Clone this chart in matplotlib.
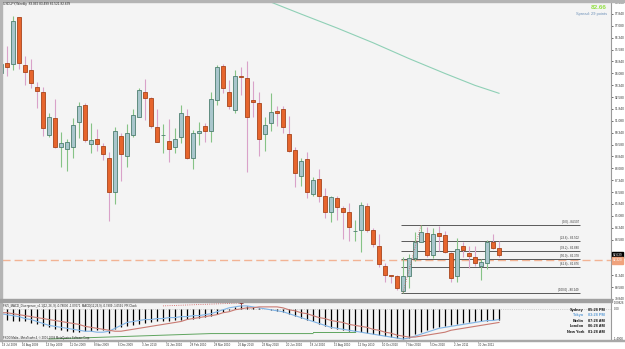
import matplotlib
matplotlib.use("Agg")
import matplotlib.pyplot as plt
from matplotlib.patches import Rectangle

plt.rcParams['font.family'] = ['Liberation Sans', 'DejaVu Sans']

W, H = 625, 349

# weekly USDJPY bars, first bar = week of 19 Jul 2009, last = week of 20 Feb 2011
opens = [94.13, 94.76, 94.69, 97.63, 94.63, 94.32, 93.19, 92.88, 90.19, 91.26,
         89.44, 89.32, 89.44, 91.01, 92.07, 89.63, 89.94, 89.50, 88.76, 86.57,
         90.13, 88.88, 90.19, 91.32, 92.88, 92.51, 90.69, 90.16, 89.82, 89.44,
         90.07, 91.38, 88.76, 90.32, 90.76, 90.44, 92.38, 94.57, 92.88, 91.76,
         93.94, 93.76, 92.38, 92.19, 90.26, 90.94, 91.69, 91.82, 90.26, 89.26,
         87.63, 88.69, 86.44, 87.44, 86.32, 85.32, 86.19, 85.57, 85.32, 84.13,
         84.19, 85.69, 84.19, 83.19, 81.94, 81.35, 81.26, 80.32, 81.26, 82.44,
         83.44, 84.01, 82.63, 84.01, 83.88, 82.76, 81.26, 83.19, 82.76, 82.51,
         81.94, 82.13, 83.44, 83.062]
closes = [94.69, 94.50, 97.38, 94.76, 94.19, 93.44, 92.94, 90.63, 91.32, 89.44,
          89.69, 89.76, 90.82, 92.01, 89.88, 89.88, 89.63, 89.01, 86.57, 90.44,
          89.01, 90.32, 91.44, 93.01, 92.51, 90.76, 89.76, 90.19, 89.32, 89.94,
          91.57, 88.76, 90.32, 90.44, 90.44, 92.44, 94.50, 93.13, 92.01, 93.94,
          93.82, 91.32, 92.26, 89.94, 90.82, 91.63, 91.57, 90.69, 89.19, 87.76,
          88.57, 86.57, 87.32, 86.32, 85.32, 86.26, 85.63, 85.32, 84.38, 84.16,
          85.76, 84.19, 83.32, 82.07, 81.38, 81.29, 80.51, 81.32, 82.44, 83.44,
          84.07, 82.63, 83.94, 83.82, 82.82, 81.19, 83.01, 82.94, 82.57, 82.13,
          82.19, 83.44, 83.07, 82.639]
highs = [95.19, 95.82, 97.69, 97.66, 95.19, 95.01, 93.51, 93.19, 91.57, 92.44,
         90.38, 89.94, 91.26, 92.26, 92.19, 90.94, 90.57, 89.69, 89.13, 90.69,
         90.32, 90.88, 91.82, 93.13, 93.69, 92.57, 91.82, 90.88, 91.19, 90.63,
         92.07, 91.82, 90.51, 91.01, 90.94, 92.88, 94.63, 94.69, 93.63, 94.26,
         94.51, 94.88, 93.57, 92.88, 91.32, 92.82, 92.01, 92.01, 91.38, 89.44,
         88.76, 89.13, 87.51, 88.07, 86.82, 86.32, 86.32, 85.69, 85.88, 84.82,
         85.94, 85.88, 84.32, 83.94, 82.13, 81.38, 81.38, 82.51, 82.69, 84.07,
         84.51, 84.38, 84.32, 84.44, 84.13, 82.82, 83.69, 83.44, 83.19, 83.19,
         82.38, 83.57, 83.94, 83.499]
lows = [93.01, 93.94, 94.26, 94.38, 93.32, 93.13, 91.88, 90.13, 90.07, 89.38,
        88.19, 87.94, 88.76, 90.01, 89.76, 89.07, 89.19, 88.63, 84.76, 85.82,
        87.26, 88.19, 90.07, 91.32, 91.13, 90.63, 89.76, 89.07, 88.51, 89.07,
        89.69, 88.69, 88.07, 89.57, 89.76, 89.76, 92.07, 92.82, 91.82, 91.57,
        92.69, 87.88, 91.32, 88.88, 89.19, 90.44, 90.76, 90.32, 89.13, 86.88,
        86.94, 86.19, 86.32, 85.94, 84.94, 84.69, 84.82, 83.63, 83.51, 83.51,
        82.82, 84.07, 83.13, 81.88, 80.94, 80.82, 80.38, 80.25, 80.51, 82.26,
        83.44, 82.51, 82.44, 82.88, 82.76, 80.94, 80.94, 82.51, 81.82, 81.94,
        81.07, 81.76, 83.01, 82.521]

# long moving average (read at a few bars)
ma_idx = [44, 50, 56, 62, 68, 74, 79, 83]
ma_vals = [98.72, 97.82, 96.94, 96.01, 95.01, 94.07, 93.32, 92.82]

fib_high = 84.507
fib_low = 80.249
fib_levels = [0.0, 23.6, 38.2, 50.0, 61.8, 100.0]
hline_price = 82.32
bid = 82.66
spread = 29

price_ticks = [98.58, 97.84, 97.08, 96.34, 95.58, 94.84, 94.08, 93.34, 92.58,
               91.84, 91.08, 90.34, 89.58, 88.84, 88.08, 87.34, 86.58, 85.84,
               85.08, 84.34, 83.58, 81.34, 80.58, 79.84]

date_idx = list(range(0, 84, 4))
date_labels = ['19 Jul 2009', '16 Aug 2009', '13 Sep 2009', '11 Oct 2009',
               '8 Nov 2009', '6 Dec 2009', '3 Jan 2010', '31 Jan 2010',
               '28 Feb 2010', '28 Mar 2010', '25 Apr 2010', '23 May 2010',
               '20 Jun 2010', '18 Jul 2010', '15 Aug 2010', '12 Sep 2010',
               '10 Oct 2010', '7 Nov 2010', '5 Dec 2010', '2 Jan 2011',
               '30 Jan 2011']

# MACD divergence sub-window
macd_hist = [-0.55, -0.55, -0.60, -0.60, -0.65, -0.75, -0.80, -0.90, -0.95, -1.05,
             -1.10, -1.15, -1.20, -1.20, -1.15, -1.15, -1.10, -1.10, -1.25, -1.05,
             -0.95, -0.90, -0.85, -0.80, -0.75, -0.70, -0.65, -0.60, -0.60, -0.55,
             -0.55, -0.50, -0.50, -0.45, -0.40, -0.35, -0.25, -0.15, -0.05, 0.10,
             0.20, 0.15, 0.10, 0.05, -0.02, -0.05, -0.10, -0.15, -0.25, -0.35,
             -0.45, -0.55, -0.65, -0.80, -0.90, -1.00, -1.05, -1.10, -1.15, -1.20,
             -1.20, -1.25, -1.30, -1.35, -1.40, -1.45, -1.50, -1.55, -1.50, -1.30,
             -1.20, -1.10, -1.00, -0.95, -0.90, -0.85, -0.80, -0.75, -0.70, -0.65,
             -0.65, -0.60, -0.55, -0.55]
macd_line = [-0.25, -0.30, -0.35, -0.40, -0.50, -0.55, -0.65, -0.75, -0.85, -0.90,
             -0.95, -1.00, -1.05, -1.10, -1.15, -1.15, -1.20, -1.20, -1.15, -1.00,
             -0.85, -0.70, -0.65, -0.60, -0.55, -0.55, -0.50, -0.50, -0.45, -0.45,
             -0.40, -0.40, -0.35, -0.35, -0.30, -0.25, -0.15, -0.05, 0.05, 0.10,
             0.15, 0.15, 0.10, 0.05, 0.00, -0.05, -0.10, -0.15, -0.25, -0.35,
             -0.45, -0.55, -0.65, -0.75, -0.85, -0.95, -1.00, -1.05, -1.10, -1.15,
             -1.20, -1.25, -1.30, -1.35, -1.40, -1.45, -1.50, -1.55, -1.50, -1.40,
             -1.30, -1.20, -1.10, -1.00, -0.95, -0.90, -0.85, -0.80, -0.75, -0.70,
             -0.65, -0.60, -0.60, -0.55]
macd_signal = [-0.20, -0.20, -0.25, -0.30, -0.35, -0.40, -0.45, -0.50, -0.55, -0.60,
               -0.65, -0.70, -0.75, -0.80, -0.90, -0.95, -1.00, -1.05, -1.10, -1.15,
               -1.15, -1.10, -1.05, -1.00, -0.95, -0.90, -0.85, -0.80, -0.75, -0.70,
               -0.65, -0.55, -0.50, -0.45, -0.40, -0.35, -0.30, -0.20, -0.15, -0.05,
               0.00, 0.05, 0.05, 0.10, 0.10, 0.10, 0.10, 0.05, -0.05, -0.10,
               -0.20, -0.25, -0.35, -0.45, -0.50, -0.60, -0.65, -0.70, -0.80, -0.85,
               -0.90, -0.95, -1.05, -1.10, -1.20, -1.25, -1.35, -1.40, -1.45, -1.45,
               -1.40, -1.35, -1.30, -1.25, -1.20, -1.10, -1.05, -1.00, -0.95, -0.90,
               -0.85, -0.80, -0.75, -0.70]

clock_cities = ['Sydney', 'Tokyo', 'Berlin', 'London', 'New York']
clock_times = ['05:28 PM', '03:28 PM', '07:28 AM', '06:28 AM', '01:28 AM']


def fx(x):
    return x / W


def fy(y):
    return 1 - y / H


fig = plt.figure(figsize=(W / 100, H / 100), dpi=100, facecolor='white')

# window frame bits
for (x0, y0, w, h, c) in [(0, 0, W, 2, '#b4b4b4'), (0, 0, 2, 341, '#b4b4b4'),
                          (0, 299, 612, 3, '#a0a0a0'), (0, 340, W, 1.2, '#a8a8a8')]:
    fig.patches.append(Rectangle((fx(x0), fy(y0 + h)), w / W, h / H,
                                 transform=fig.transFigure, color=c, zorder=0))

ax = fig.add_axes([fx(2), fy(299), 609 / W, 297 / H])
ax2 = fig.add_axes([fx(2), fy(340), 609 / W, 38 / H])
xlim = ((2 - 1) / 6, (611 - 1) / 6)

for a in (ax, ax2):
    a.set_facecolor('#f4f4f4')
    a.set_xlim(*xlim)
    for s in ('top', 'left', 'bottom'):
        a.spines[s].set_visible(False)
    a.spines['right'].set_color('#9a9a9a')
    a.spines['right'].set_linewidth(0.8)

ax.set_ylim(98.63 - 299 / 16, 98.63 - 2 / 16)

# candles
idx = list(range(len(opens)))
bull = [c >= o for o, c in zip(opens, closes)]
wick_col = ['#86c386' if b else '#d9a2c9' for b in bull]
ax.vlines(idx, lows, highs, colors=wick_col, lw=0.8, zorder=2)
bottoms = [min(o, c) for o, c in zip(opens, closes)]
heights = [max(abs(c - o), 0.03) for o, c in zip(opens, closes)]
ax.bar(idx, heights, bottom=bottoms, width=0.62,
       color=['#a9c6cc' if b else '#e6652d' for b in bull],
       edgecolor=['#4e7f70' if b else '#a8451c' for b in bull],
       linewidth=0.6, zorder=3)

# moving average
ax.plot(ma_idx, ma_vals, color='#8fd0b6', lw=0.8, zorder=1)

# dashed horizontal line
ax.axhline(hline_price, color='#f2b394', lw=1.0, ls=(0, (5.8, 2.9)), zorder=1)

# fibonacci retracement
fib_start, fib_end = 66.7, 96.5
for lvl in fib_levels:
    p = fib_high - lvl / 100 * (fib_high - fib_low)
    ax.hlines(p, fib_start, fib_end, color='#5a5a5a', lw=0.7, zorder=1)
    ax.text(fib_end - 0.2, p + 0.06, '(%.1f) - %.3f' % (lvl, p), ha='right',
            va='bottom', fontsize=2.1, color='#333333')
ax.plot([67, 70], [fib_low, fib_high], color='#d06060', lw=0.6, ls=':', zorder=4)

# price scale on the right
ax.set_xticks([])
ax.yaxis.tick_right()
ax.set_yticks(price_ticks)
ax.set_yticklabels(['%.3f' % p for p in price_ticks])
ax.tick_params(axis='y', length=1.5, width=0.5, pad=1, labelsize=2.3,
               colors='#333333')
ax.annotate('%.3f' % closes[-1], xy=(1, closes[-1]), xycoords=('axes fraction', 'data'),
            xytext=(1.2, 0), textcoords='offset points', fontsize=2.3, color='white',
            va='center', ha='left', annotation_clip=False,
            bbox=dict(boxstyle='square,pad=0.35', fc='black', ec='black'))
ax.annotate('%.3f' % hline_price, xy=(1, hline_price), xycoords=('axes fraction', 'data'),
            xytext=(1.2, -0.5), textcoords='offset points', fontsize=2.3, color='white',
            va='center', ha='left', annotation_clip=False,
            bbox=dict(boxstyle='square,pad=0.35', fc='#f0a27c', ec='#f0a27c'))

fig.text(fx(3), fy(4.5), 'USDJPY,Weekly  %.3f %.3f %.3f %.3f'
         % (opens[-1], highs[-1], lows[-1], closes[-1]),
         fontsize=2.3, color='#222222', va='center')
fig.text(fx(607), fy(7.5), '%.2f' % bid, fontsize=4.6, fontweight='bold',
         color='#92e043', ha='right', va='center')
fig.text(fx(607), fy(14), 'Spread: %d points' % spread, fontsize=2.9,
         color='#6c90b8', ha='right', va='center')

# MACD window
ax2.set_ylim(-1.6, 0.35)
ax2.axhline(0, color='#b0b0b0', lw=0.5, ls=':')
ax2.vlines(idx, 0, macd_hist, colors='black', lw=0.9, zorder=2)
ax2.plot(idx, macd_line, color='#80b4e6', lw=0.8, zorder=3)
ax2.plot(idx, macd_signal, color='#c97a72', lw=0.8, zorder=3)
ax2.plot([8, 35, 52], [-1.55, -1.27, -1.27], color='#5fa55f', lw=0.7, zorder=3)
ax2.plot([52, 59], [-1.2, -1.2], color='#5fa55f', lw=0.7, zorder=3)
ax2.plot([27, 40], [0.15, 0.30], color='#d05050', lw=0.6, ls=':', zorder=3)
ax2.plot([40], [0.30], marker='+', ms=2.5, mew=0.6, color='#802020', zorder=4)
ax2.set_yticks([])

ax2.set_xticks([max(k - 0.5, xlim[0]) for k in date_idx])
ax2.set_xticklabels(date_labels, ha='left')
ax2.tick_params(axis='x', length=1.5, width=0.5, pad=0.8, labelsize=2.1,
                colors='#333333')

fig.text(fx(3), fy(306), 'FXI5_MACD_Divergence_v1.1(12, 26, 9) -0.78030 -1.07071  '
         'MACD(12,26,9) -0.7909 -1.0591  PR Clock', fontsize=2.1, color='#222222',
         va='center')
fig.text(fx(3), fy(338.3), 'FXDD Malta - MetaTrader 4, \u00a9 2001-2009 MetaQuotes '
         'Software Corp.', fontsize=2.0, color='#222222', va='center')
fig.text(fx(614), fy(303.5), '1.00826', fontsize=2.1, color='#333333', va='center')
fig.text(fx(614), fy(309.5), '0.00', fontsize=2.1, color='#333333', va='center')
fig.text(fx(614), fy(339), '-1.4900', fontsize=2.1, color='#333333', va='center')

for i, (city, t) in enumerate(zip(clock_cities, clock_times)):
    y = 310 + i * 5.4
    col = '#5b9bd5' if city == 'Tokyo' else '#111111'
    fig.text(fx(584), fy(y), city, fontsize=2.8, fontweight='bold', color=col,
             ha='right', va='center')
    fig.text(fx(588), fy(y), t, fontsize=2.8, fontweight='bold', color=col,
             ha='left', va='center')

fig.savefig('out.png', dpi=100, facecolor='white')
